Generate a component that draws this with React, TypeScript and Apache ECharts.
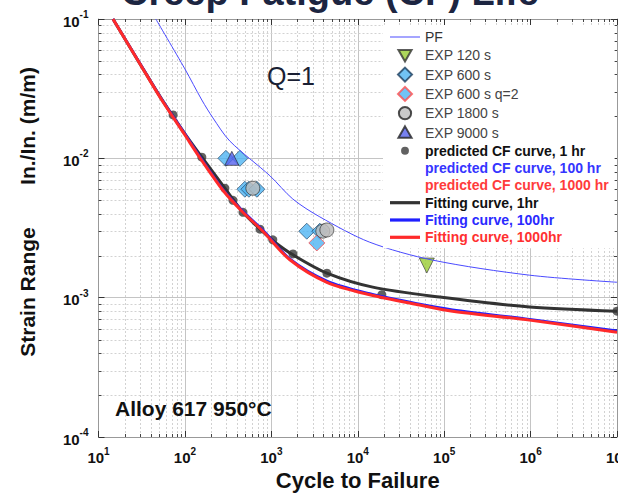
import React, { useEffect, useRef } from 'react';
import * as echarts from 'echarts';

const FONT = '"Liberation Sans", Arial, Helvetica, sans-serif';

// Curves (cycles to failure, strain range)
const pfCurve = [[46, 0.1], [100, 0.0438], [157, 0.0262], [211, 0.0195], [331, 0.0133], [962, 0.0075], [1775, 0.0051], [3640, 0.0038], [13770, 0.0025], [73600, 0.00186], [973000, 0.00145], [1e7, 0.00129]];
const fit1hr = [[14.7, 0.1], [30, 0.048], [54, 0.0265], [100, 0.015], [157, 0.0102], [290, 0.0061], [470, 0.0041], [740, 0.0031], [1100, 0.0025], [1780, 0.00203], [4400, 0.0015], [14900, 0.00119], [88700, 0.00101], [973000, 0.000857], [1e7, 0.0008]];
const fit100hr = [[14.7, 0.1], [30, 0.0485], [54, 0.0266], [100, 0.015], [149, 0.0103], [275, 0.006], [469, 0.00418], [798, 0.00306], [1637, 0.0019], [4390, 0.00132], [13770, 0.00107], [52100, 0.0009], [125000, 0.00082], [973000, 0.0007], [1e7, 0.00058]];
const fit1000hr = [[14.7, 0.1], [30, 0.048], [54, 0.0262], [100, 0.0147], [149, 0.0101], [275, 0.0059], [469, 0.0041], [798, 0.003], [1637, 0.00187], [4390, 0.00129], [13770, 0.00105], [52100, 0.000885], [125000, 0.0008], [973000, 0.00069], [1e7, 0.000565]];

// Predicted CF points, 1 hr
const predicted1hr = [[73, 0.0205], [157, 0.0102], [290, 0.0061], [360, 0.005], [470, 0.0041], [740, 0.0031], [1040, 0.0026], [1780, 0.00206], [4400, 0.0015], [19000, 0.00105], [1e7, 0.0008]];
const predicted100hr: number[][] = [];
const predicted1000hr: number[][] = [];

// Experiments
const exp120 = [[63000, 0.0017]];
const exp600 = [[298, 0.01], [433, 0.01], [494, 0.006], [550, 0.006], [680, 0.006], [2570, 0.003], [3640, 0.003]];
const exp600q2 = [[3360, 0.00247]];
const exp1800 = [[611, 0.0061], [3940, 0.003], [4390, 0.00306]];
const exp9000 = [[349, 0.01]];

// Axis ranges
const xMin = 10, xMax = 1e7;
const yMin = 1e-4, yMax = 0.1;
const xDecades = [1, 2, 3, 4, 5, 6];
const yDecades = [-4, -3, -2];
const mantissas = [2, 3, 4, 5, 6, 7, 8, 9];

const legendNames = {
  pf: 'PF',
  e120: 'EXP 120 s',
  e600: 'EXP 600 s',
  e600q: 'EXP 600 s q=2',
  e1800: 'EXP 1800 s',
  e9000: 'EXP 9000 s',
  p1: 'predicted CF curve, 1 hr',
  p100: 'predicted CF curve, 100 hr',
  p1000: 'predicted CF curve, 1000 hr',
  f1: 'Fitting curve, 1hr',
  f100: 'Fitting curve, 100hr',
  f1000: 'Fitting curve, 1000hr',
};

// legend icon shapes (the leading moves fix the icon's box size)
const ICON_THIN = 'path://M0,0L30,0L30,1L0,1Z';
const ICON_THICK = 'path://M0,0L30,0L30,3.2L0,3.2Z';
const ICON_DIAMOND = 'path://M0,0M16,16M8,0L16,8L8,16L0,8Z';
const ICON_TRI = 'path://M0,0M16,16M8,1L15.5,14L0.5,14Z';
const ICON_TRI_DOWN = 'path://M0,0M16,16M0.5,2L15.5,2L8,15Z';
const ICON_CIRCLE = 'path://M0,0M16,16M1,8A7,7 0 1 1 15,8A7,7 0 1 1 1,8Z';
const ICON_DOT = 'path://M0,0M16,16M3.5,8A4.5,4.5 0 1 1 12.5,8A4.5,4.5 0 1 1 3.5,8Z';

const expFormatter = (v: number) => {
  const e = Math.round(Math.log10(v));
  return `{b|10}{s|${e}}`;
};

const labelRich = {
  b: { fontSize: 15, fontWeight: 'bold', color: '#111', fontFamily: FONT, padding: [4, 0, 0, 0] },
  s: { fontSize: 10, fontWeight: 'bold', color: '#111', fontFamily: FONT, verticalAlign: 'top' },
};

function buildOption(): any {
  const xMinor: number[] = [];
  xDecades.forEach((d) => mantissas.forEach((m) => xMinor.push(m * Math.pow(10, d))));
  const yMinor: number[] = [];
  yDecades.forEach((d) => mantissas.forEach((m) => yMinor.push(m * Math.pow(10, d))));

  const minorGrid = {
    type: 'custom',
    coordinateSystem: 'cartesian2d',
    silent: true,
    z: 1,
    data: [[100, 0.01]],
    renderItem: (params: any, api: any) => {
      const cs = params.coordSys;
      const children: any[] = [];
      const top = cs.y, bottom = cs.y + cs.height, left = cs.x, right = cs.x + cs.width;
      xMinor.forEach((v) => {
        const px = Math.round(api.coord([v, 0.01])[0]) + 0.5;
        children.push({ type: 'line', shape: { x1: px, y1: top, x2: px, y2: bottom }, style: { stroke: '#d2d2d2', lineWidth: 1, lineDash: [2, 2] } });
        children.push({ type: 'line', shape: { x1: px, y1: bottom, x2: px, y2: bottom - 3 }, style: { stroke: '#444', lineWidth: 1 } });
        children.push({ type: 'line', shape: { x1: px, y1: top, x2: px, y2: top + 3 }, style: { stroke: '#444', lineWidth: 1 } });
      });
      yMinor.forEach((v) => {
        const py = Math.round(api.coord([100, v])[1]) + 0.5;
        children.push({ type: 'line', shape: { x1: left, y1: py, x2: right, y2: py }, style: { stroke: '#d2d2d2', lineWidth: 1, lineDash: [2, 2] } });
        children.push({ type: 'line', shape: { x1: left, y1: py, x2: left + 3, y2: py }, style: { stroke: '#444', lineWidth: 1 } });
        children.push({ type: 'line', shape: { x1: right, y1: py, x2: right - 3, y2: py }, style: { stroke: '#444', lineWidth: 1 } });
      });
      return { type: 'group', children };
    },
  };

  const axisCommon = {
    type: 'log',
    logBase: 10,
    axisLine: { show: true, onZero: false, lineStyle: { color: '#999', width: 1 } },
    axisTick: { show: true, inside: true, length: 6, lineStyle: { color: '#333' } },
  };

  const expText = { color: '#444', fontWeight: 'normal', fontSize: 14 };

  return {
    animation: false,
    backgroundColor: '#fff',
    grid: { left: 98.5, top: 19, right: 1, bottom: 59, containLabel: false, outerBoundsMode: 'none' },
    xAxis: [
      {
        ...axisCommon,
        position: 'bottom',
        min: xMin,
        max: xMax,
        axisLabel: { show: true, margin: 9, formatter: expFormatter, rich: labelRich, hideOverlap: false },
        splitLine: { show: true, lineStyle: { color: '#c4c4c4', width: 1 } },
        name: 'Cycle to Failure',
        nameLocation: 'middle',
        nameGap: 31,
        nameTextStyle: { fontSize: 22, fontWeight: 'bold', color: '#111', fontFamily: FONT },
      },
      {
        ...axisCommon,
        position: 'top',
        min: xMin,
        max: xMax,
        axisLabel: { show: false },
        splitLine: { show: false },
      },
    ],
    yAxis: [
      {
        ...axisCommon,
        position: 'left',
        min: yMin,
        max: yMax,
        axisLabel: { show: true, margin: 10, formatter: expFormatter, rich: labelRich },
        splitLine: { show: true, lineStyle: { color: '#c4c4c4', width: 1 } },
      },
      {
        ...axisCommon,
        position: 'right',
        min: yMin,
        max: yMax,
        axisLabel: { show: false },
        splitLine: { show: false },
      },
    ],
    legend: {
      orient: 'vertical',
      left: 383,
      top: 25,
      backgroundColor: '#fff',
      padding: [5, 6, 4, 7],
      itemGap: 3.3,
      itemWidth: 30,
      itemHeight: 14,
      selectedMode: false,
      symbolKeepAspect: true,
      textStyle: { fontFamily: FONT, fontSize: 14, color: '#444' },
      data: [
        { name: legendNames.pf, icon: ICON_THIN, textStyle: { color: '#333' } },
        { name: legendNames.e120, icon: ICON_TRI_DOWN, textStyle: expText },
        { name: legendNames.e600, icon: ICON_DIAMOND, textStyle: expText },
        { name: legendNames.e600q, icon: ICON_DIAMOND, textStyle: expText },
        { name: legendNames.e1800, icon: ICON_CIRCLE, textStyle: expText },
        { name: legendNames.e9000, icon: ICON_TRI, textStyle: expText },
        { name: legendNames.p1, icon: ICON_DOT, textStyle: { color: '#111', fontWeight: 'bold' } },
        { name: legendNames.p100, icon: ICON_DOT, textStyle: { color: '#3535ff', fontWeight: 'bold' } },
        { name: legendNames.p1000, icon: ICON_DOT, textStyle: { color: '#ff3b3b', fontWeight: 'bold' } },
        { name: legendNames.f1, icon: ICON_THICK, textStyle: { color: '#111', fontWeight: 'bold' } },
        { name: legendNames.f100, icon: ICON_THICK, textStyle: { color: '#2a2aff', fontWeight: 'bold' } },
        { name: legendNames.f1000, icon: ICON_THICK, textStyle: { color: '#ff3030', fontWeight: 'bold' } },
      ],
    },
    graphic: [
      {
        type: 'text', x: 330, y: 11, z: 10,
        style: { text: 'Creep Fatigue (CF) Life', align: 'center', verticalAlign: 'bottom', fontSize: 38, fontWeight: 'bold', fontFamily: FONT, fill: '#1c2541' },
      },
      {
        type: 'text', x: 267, y: 76, z: 10,
        style: { text: 'Q=1', verticalAlign: 'middle', fontSize: 25, fontFamily: FONT, fill: '#1a1f33' },
      },
      {
        type: 'text', x: 115, y: 408, z: 10,
        style: { text: 'Alloy 617 950°C', verticalAlign: 'middle', fontSize: 21, fontWeight: 'bold', fontFamily: FONT, fill: '#111' },
      },
      {
        type: 'text', x: 27, y: 292, rotation: Math.PI / 2, z: 10,
        style: { text: 'Strain Range', align: 'center', verticalAlign: 'middle', fontSize: 21, fontWeight: 'bold', fontFamily: FONT, fill: '#111' },
      },
      {
        type: 'text', x: 27, y: 126, rotation: Math.PI / 2, z: 10,
        style: { text: 'In./In. (m/m)', align: 'center', verticalAlign: 'middle', fontSize: 21, fontWeight: 'bold', fontFamily: FONT, fill: '#111' },
      },
    ],
    series: [
      minorGrid,
      {
        name: legendNames.pf, type: 'line', data: pfCurve, smooth: 0.3, symbol: 'none',
        lineStyle: { color: '#4a4aff', width: 1 }, itemStyle: { color: '#4a4aff' },
      },
      {
        name: legendNames.p1, type: 'scatter', data: predicted1hr, symbol: 'circle', symbolSize: 9,
        itemStyle: { color: '#3a3a3a' },
      },
      {
        name: legendNames.p100, type: 'scatter', data: predicted100hr, symbol: 'circle', symbolSize: 9,
        itemStyle: { color: 'rgba(0,0,0,0)' },
      },
      {
        name: legendNames.p1000, type: 'scatter', data: predicted1000hr, symbol: 'circle', symbolSize: 9,
        itemStyle: { color: 'rgba(0,0,0,0)' },
      },
      {
        name: legendNames.f1, type: 'line', data: fit1hr, smooth: 0.3, symbol: 'none',
        lineStyle: { color: '#333333', width: 3 }, itemStyle: { color: '#333333' },
      },
      {
        name: legendNames.f100, type: 'line', data: fit100hr, smooth: 0.3, symbol: 'none',
        lineStyle: { color: '#1f1fff', width: 2.5 }, itemStyle: { color: '#1f1fff' },
      },
      {
        name: legendNames.f1000, type: 'line', data: fit1000hr, smooth: 0.3, symbol: 'none',
        lineStyle: { color: '#ff2a2a', width: 3 }, itemStyle: { color: '#ff2a2a' },
      },
      {
        name: legendNames.e600, type: 'scatter', data: exp600, symbol: 'diamond', symbolSize: 16,
        itemStyle: { color: '#4db4f2', borderColor: '#1d3d5e', borderWidth: 0.8 },
      },
      {
        name: legendNames.e600q, type: 'scatter', data: exp600q2, symbol: 'diamond', symbolSize: 16,
        itemStyle: { color: '#4db4f2', borderColor: '#ff4d4d', borderWidth: 1 },
      },
      {
        name: legendNames.e1800, type: 'scatter', data: exp1800, symbol: 'circle', symbolSize: 14,
        itemStyle: { color: '#bdbdbd', borderColor: '#222', borderWidth: 0.8 },
      },
      {
        name: legendNames.e9000, type: 'scatter', data: exp9000, symbol: 'triangle', symbolSize: 14,
        itemStyle: { color: '#5561ee', borderColor: '#222', borderWidth: 0.8 },
      },
      {
        name: legendNames.e120, type: 'scatter', data: exp120, symbol: 'triangle', symbolRotate: 180, symbolSize: 15,
        itemStyle: { color: '#99cc33', borderColor: '#333', borderWidth: 0.8 },
      },
    ],
  };
}

export default function App() {
  const ref = useRef<HTMLDivElement>(null);
  useEffect(() => {
    if (!ref.current) return;
    const chart = echarts.init(ref.current, null, { renderer: 'svg', width: 618, height: 496 });
    chart.setOption(buildOption());
    return () => {
      chart.dispose();
    };
  }, []);
  return (
    <div
      ref={ref}
      style={{ position: 'fixed', left: 0, top: 0, width: 618, height: 496, background: '#fff' }}
    />
  );
}
